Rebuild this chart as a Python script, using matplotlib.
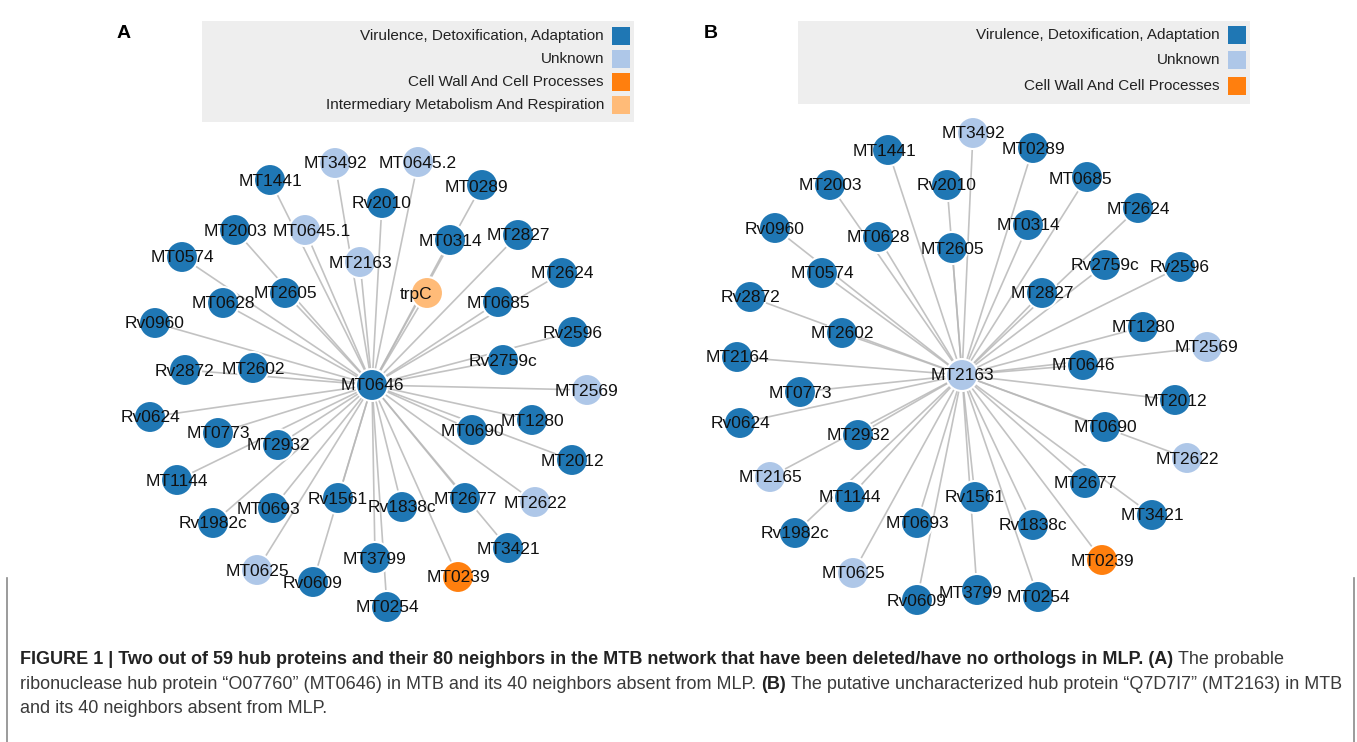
import matplotlib
matplotlib.use("Agg")
import matplotlib.pyplot as plt
from matplotlib.patches import Circle, Rectangle

plt.rcParams["font.family"] = ["Liberation Sans", "DejaVu Sans"]

# ── 功能类别 ──
CATEGORIES = ["Virulence, Detoxification, Adaptation", "Unknown",
              "Cell Wall And Cell Processes", "Intermediary Metabolism And Respiration"]
CAT_COLORS = ["#1f77b4", "#aec7e8", "#ff7f0e", "#ffbb78"]

# ── 网络 A: 枢纽 MT0646 及其邻居 ──
hub_a = "MT0646"
hub_a_cat = 0
nodes_a = ["MT1441", "MT3492", "MT0645.2", "Rv2010", "MT0289", "MT2003", "MT0645.1",
           "MT0314", "MT2827", "MT0574", "MT2163", "MT2624", "trpC", "MT2605", "MT0628",
           "MT0685", "Rv0960", "Rv2596", "Rv2872", "MT2602", "Rv2759c", "MT2569", "Rv0624",
           "MT1280", "MT0773", "MT2932", "MT0690", "MT2012", "MT1144", "MT0693", "Rv1561",
           "Rv1838c", "MT2677", "MT2622", "Rv1982c", "MT3421", "MT0625", "Rv0609", "MT3799",
           "MT0239", "MT0254"]
cats_a = [0, 1, 1, 0, 0, 0, 1,
          0, 0, 0, 1, 0, 3, 0, 0,
          0, 0, 0, 0, 0, 0, 1, 0,
          0, 0, 0, 0, 0, 0, 0, 0,
          0, 0, 1, 0, 0, 1, 0, 0,
          2, 0]

# ── 网络 B: 枢纽 MT2163 及其邻居 ──
hub_b = "MT2163"
hub_b_cat = 1
nodes_b = ["MT1441", "MT3492", "MT0289", "MT2003", "Rv2010", "MT0685", "MT2624", "Rv0960",
           "MT0628", "MT2605", "MT0314", "MT0574", "Rv2759c", "Rv2596", "Rv2872", "MT2827",
           "MT2602", "MT1280", "MT2569", "MT2164", "MT0646", "MT0773", "MT2012", "Rv0624",
           "MT2932", "MT0690", "MT2622", "MT2165", "MT1144", "MT2677", "Rv1561", "MT3421",
           "MT0693", "Rv1838c", "Rv1982c", "MT0239", "MT0625", "MT3799", "MT0254", "Rv0609"]
cats_b = [0, 1, 0, 0, 0, 0, 0, 0,
          0, 0, 0, 0, 0, 0, 0, 0,
          0, 0, 1, 0, 0, 0, 0, 0,
          0, 0, 1, 1, 0, 0, 0, 0,
          0, 0, 0, 2, 1, 0, 0, 0]

# 力导向布局结果（像素坐标）
layout_a = {
    "MT0646": (372, 385),
    "MT1441": (270, 180), "MT3492": (335, 163), "MT0645.2": (418, 162), "Rv2010": (382, 203),
    "MT0289": (482, 185), "MT2003": (235, 230), "MT0645.1": (305, 230), "MT0314": (450, 240),
    "MT2827": (518, 235), "MT0574": (182, 257), "MT2163": (360, 262), "MT2624": (562, 273),
    "trpC": (427, 293), "MT2605": (285, 293), "MT0628": (223, 303), "MT0685": (498, 302),
    "Rv0960": (155, 323), "Rv2596": (573, 332), "Rv2872": (185, 370), "MT2602": (253, 368),
    "Rv2759c": (503, 360), "MT2569": (587, 390), "Rv0624": (150, 417), "MT1280": (532, 420),
    "MT0773": (218, 433), "MT2932": (278, 445), "MT0690": (472, 430), "MT2012": (572, 460),
    "MT1144": (177, 480), "MT0693": (273, 508), "Rv1561": (338, 498), "Rv1838c": (402, 507),
    "MT2677": (465, 498), "MT2622": (535, 502), "Rv1982c": (213, 523), "MT3421": (508, 548),
    "MT0625": (257, 570), "Rv0609": (313, 582), "MT3799": (375, 558), "MT0239": (458, 577),
    "MT0254": (387, 607),
}
layout_b = {
    "MT2163": (962, 375),
    "MT1441": (888, 150), "MT3492": (973, 133), "MT0289": (1033, 148), "MT2003": (830, 185),
    "Rv2010": (947, 185), "MT0685": (1087, 177), "MT2624": (1138, 208), "Rv0960": (775, 228),
    "MT0628": (878, 237), "MT2605": (952, 248), "MT0314": (1028, 225), "MT0574": (822, 273),
    "Rv2759c": (1105, 265), "Rv2596": (1180, 267), "Rv2872": (750, 297), "MT2827": (1042, 293),
    "MT2602": (842, 333), "MT1280": (1143, 327), "MT2569": (1207, 347), "MT2164": (737, 357),
    "MT0646": (1083, 365), "MT0773": (800, 392), "MT2012": (1175, 400), "Rv0624": (740, 423),
    "MT2932": (858, 435), "MT0690": (1105, 427), "MT2622": (1187, 458), "MT2165": (770, 477),
    "MT1144": (850, 497), "MT2677": (1085, 483), "Rv1561": (975, 497), "MT3421": (1152, 515),
    "MT0693": (917, 523), "Rv1838c": (1033, 525), "Rv1982c": (795, 533), "MT0239": (1102, 560),
    "MT0625": (853, 573), "MT3799": (977, 590), "MT0254": (1038, 597), "Rv0609": (917, 600),
}
# 个别标签相对节点的偏移
label_shift_a = {"trpC": (-11, 0), "MT0645.1": (7, 0), "MT0289": (-6, 1), "MT0693": (-5, 1)}
label_shift_b = {"MT0685": (-7, 1), "MT3799": (-7, 2), "MT1441": (-4, 0)}

NODE_R = 16
W, H = 1357, 742

fig = plt.figure(figsize=(W / 100, H / 100), dpi=100)
ax = fig.add_axes([0, 0, 1, 1])
ax.set_xlim(0, W)
ax.set_ylim(H, 0)
ax.axis("off")


def draw_network(hub, hub_cat, nodes, cats, layout, shifts):
    hx, hy = layout[hub]
    # 边：枢纽到每个邻居
    for n in nodes:
        x, y = layout[n]
        ax.plot([hx, x], [hy, y], color="#b8b8b8", lw=1.2, alpha=0.85,
                solid_capstyle="round", zorder=1)
    # 节点
    for n, c in list(zip(nodes, cats)) + [(hub, hub_cat)]:
        x, y = layout[n]
        ax.add_patch(Circle((x, y), NODE_R, facecolor=CAT_COLORS[c],
                            edgecolor="white", lw=1.5, zorder=2))
    # 标签
    for n in nodes + [hub]:
        x, y = layout[n]
        dx, dy = shifts.get(n, (0, 0))
        ax.text(x + dx, y + dy + 1, n, fontsize=12.5, color="#111111",
                ha="center", va="center", zorder=3)


draw_network(hub_a, hub_a_cat, nodes_a, cats_a, layout_a, label_shift_a)
draw_network(hub_b, hub_b_cat, nodes_b, cats_b, layout_b, label_shift_b)


def draw_legend(x0, x1, y0, y1, rows, n):
    ax.add_patch(Rectangle((x0, y0), x1 - x0, y1 - y0, facecolor="#eeeeee",
                           edgecolor="none", zorder=0))
    for i in range(n):
        yy = rows[i]
        ax.add_patch(Rectangle((x1 - 22, yy - 9), 18, 18, facecolor=CAT_COLORS[i],
                               edgecolor="none", zorder=1))
        ax.text(x1 - 30, yy, CATEGORIES[i], fontsize=11, color="#222222",
                ha="right", va="center", zorder=2)


draw_legend(202, 634, 21, 122, [36, 59, 82, 105], 4)
draw_legend(798, 1250, 21, 104, [35, 60, 86], 3)

ax.text(124, 33, "A", fontsize=14, fontweight="bold", ha="center", va="center")
ax.text(711, 33, "B", fontsize=14, fontweight="bold", ha="center", va="center")

# ── 图注 ──
CAP_FONT = ["Liberation Sans Narrow", "Liberation Sans"]
caption_lines = [
    [("FIGURE 1 | Two out of 59 hub proteins and their 80 neighbors in the MTB network "
      "that have been deleted/have no orthologs in MLP. (A)", "bold"),
     ("The probable", "normal")],
    [("ribonuclease hub protein \u201cO07760\u201d (MT0646) in MTB and its 40 neighbors "
      "absent from MLP.", "normal"),
     ("(B)", "bold"),
     ("The putative uncharacterized hub protein \u201cQ7D7I7\u201d (MT2163) in MTB", "normal")],
    [("and its 40 neighbors absent from MLP.", "normal")],
]
line_ends = [1323, 1342, None]
baselines = [664, 689, 713]
CAP_X = 20
renderer = fig.canvas.get_renderer()


def run_width(size, runs):
    total = 0
    for txt, wt in runs:
        t = ax.text(0, 0, txt, fontsize=size, fontweight=wt, family=CAP_FONT)
        total += t.get_window_extent(renderer).width
        t.remove()
    sp = ax.text(0, 0, "a a", fontsize=size, family=CAP_FONT)
    nsp = ax.text(0, 0, "aa", fontsize=size, family=CAP_FONT)
    space = sp.get_window_extent(renderer).width - nsp.get_window_extent(renderer).width
    sp.remove()
    nsp.remove()
    return total + space * (len(runs) - 1), space


# 字号取能让前两行都放得下的最小值
base = 11.0
cap_size = min(base * (end - CAP_X) / run_width(base, runs)[0]
               for runs, end in zip(caption_lines, line_ends) if end)
_, space = run_width(cap_size, caption_lines[0])

for runs, yb in zip(caption_lines, baselines):
    x = CAP_X
    for txt, wt in runs:
        t = ax.text(x, yb, txt, fontsize=cap_size, fontweight=wt, family=CAP_FONT,
                    color="#222222" if wt == "bold" else "#3a3a3a", va="baseline", ha="left")
        x += t.get_window_extent(renderer).width + space

# 图注外框
ax.plot([7, 7], [578, H], color="#8a8a8a", lw=1.2)
ax.plot([1354, 1354], [578, H], color="#8a8a8a", lw=1.2)

fig.savefig("out.png", dpi=100)
